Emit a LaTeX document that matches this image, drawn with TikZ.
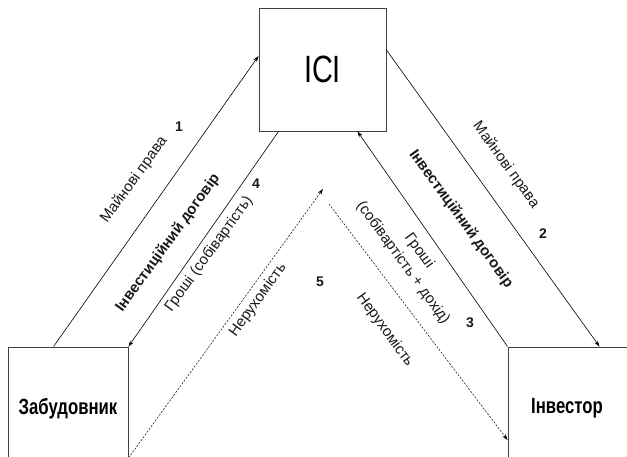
\documentclass[tikz,border=0pt]{standalone}
\usepackage{fontspec}
\setmainfont{Liberation Sans}
\newfontfamily\condfont[FakeStretch=0.76]{Liberation Sans}
\usetikzlibrary{arrows.meta,calc}
\tikzset{
  box/.style={draw=black!75, line width=0.9pt, rectangle, inner sep=0pt},
  flow/.style={draw=black, line width=0.6pt, -{Stealth[length=6pt,width=4pt]}},
  dflow/.style={draw=black, line width=0.5pt, dash pattern=on 2pt off 1.5pt, -{Stealth[length=6pt,width=4pt]}},
  lbl/.style={font=\fontsize{15}{20}\selectfont, inner sep=0pt, text=black!90},
  blbl/.style={font=\fontsize{15}{20}\selectfont\bfseries, inner sep=0pt, text=black!90},
  num/.style={font=\fontsize{14}{17}\selectfont\bfseries, inner sep=0pt, text=black!90},
}
\begin{document}
\begin{tikzpicture}[x=1pt,y=-1pt]
\useasboundingbox (0,0) rectangle (627,457);
\clip (0,0) rectangle (627,457);
% boxes
\node[box, minimum width=127pt, minimum height=123pt, font=\condfont\fontsize{38}{40}\selectfont] (ici) at (322.5,69.5) {ICI};
\node[box, minimum width=120pt, minimum height=124pt, font=\condfont\fontsize{22}{24}\selectfont\bfseries] (zab) at (68,409) {Забудовник};
\node[box, minimum width=124pt, minimum height=124pt] (inv) at (570,409) {};
\node[font=\condfont\fontsize{22}{24}\selectfont\bfseries, inner sep=0pt] (invt) at (567,408) {Інвестор};
% free ends of dashed arrows
\coordinate (apexA) at (323,189);
\coordinate (apexB) at (329,204);
% connectors
\draw[flow] ([xshift=46pt]zab.north west) -- ([yshift=13.5pt]ici.west);
\draw[flow] ([yshift=19.5pt]ici.east) -- ([xshift=92pt]inv.north west);
\draw[flow] (inv.north west) -- ([xshift=-29pt]ici.south east);
\draw[flow] ([xshift=20pt]ici.south west) -- (zab.north east);
\draw[dflow] ([yshift=-49pt]zab.east) -- (apexA);
\draw[dflow] (apexB) -- ([yshift=-31pt]inv.west);
% labels left
\node[lbl, rotate=54] (l1) at (134,180) {Майнові права};
\node[num] (n1) at (179,127) {1};
\node[blbl, rotate=54] (l2) at (168,243) {Інвестиційний договір};
\node[num] (n4) at (256,184) {4};
\node[lbl, rotate=54] (l3) at (209,254) {Гроші (собівартість)};
\node[lbl, rotate=54] (l4) at (258,300) {Нерухомість};
\node[num] (n5) at (320,282) {5};
% labels right
\node[lbl, rotate=-54] (r1) at (506,165) {Майнові права};
\node[num] (n2) at (543,234) {2};
\node[blbl, rotate=-54] (r2) at (461,219) {Інвестиційний договір};
\node[lbl, rotate=-54, align=center] (r3) at (411,257) {Гроші\\(собівартість + дохід)};
\node[num] (n3) at (470,323) {3};
\node[lbl, rotate=-54] (r4) at (385,330) {Нерухомість};
\end{tikzpicture}
\end{document}
